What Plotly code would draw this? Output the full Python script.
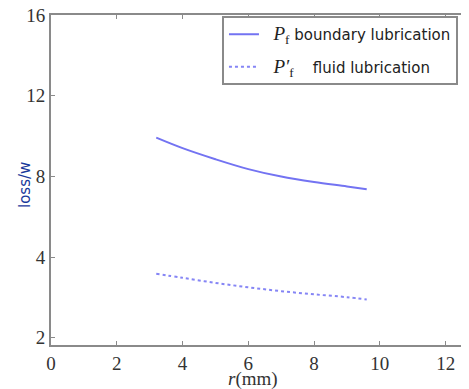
import plotly.graph_objects as go

# Data
r_vals = [3.2, 4.0, 5.0, 6.0, 7.0, 8.0, 9.0, 9.6]
pf_boundary = [9.92, 9.40, 8.85, 8.36, 7.99, 7.72, 7.50, 7.36]
pf_fluid = [3.17, 2.97, 2.72, 2.50, 2.31, 2.15, 2.01, 1.90]

y_tick_pos = [0, 4, 8, 12, 16]
y_tick_text = ["2", "4", "8", "12", "16"]
x_ticks = [0, 2, 4, 6, 8, 10, 12]

serif = "Liberation Serif, Times New Roman, serif"
sans = "DejaVu Sans, Verdana, sans-serif"

fig = go.Figure()
fig.add_trace(go.Scatter(
    x=r_vals, y=pf_boundary, mode="lines", line=dict(color="#7373f2", width=2, shape="spline"),
    name=f"&nbsp;&nbsp;<span style='font-family:{serif};font-size:19px'><i>P</i><sub>f</sub></span>&nbsp;boundary lubrication",
    legendgroup="a"))
fig.add_trace(go.Scatter(
    x=r_vals, y=pf_fluid, mode="lines", line=dict(color="#8585f5", width=2, dash="dot", shape="spline"),
    name=f"&nbsp;&nbsp;<span style='font-family:{serif};font-size:19px'><i>P′</i><sub>f</sub></span>&nbsp;&nbsp;&nbsp; fluid lubrication",
    legendgroup="b"))

axis_common = dict(
    showline=True, linecolor="#8a8a8a", linewidth=2, mirror="ticks",
    ticks="inside", ticklen=4, tickcolor="#8a8a8a", tickwidth=1,
    showgrid=False, zeroline=False, automargin=False, ticklabeloverflow="allow",
    tickfont=dict(family=serif, size=19, color="#333333"),
)

fig.update_xaxes(range=[0, 12.71], tickvals=x_ticks, **axis_common)
fig.update_yaxes(range=[-0.36, 16], tickvals=y_tick_pos, ticktext=y_tick_text, **axis_common)

fig.add_annotation(text="<i>r</i>(mm)", xref="paper", yref="paper", x=0.483, y=-0.103,
                   xanchor="center", yanchor="middle", showarrow=False,
                   font=dict(family=serif, size=19, color="#333333"))
fig.add_annotation(text="loss/w", xref="paper", yref="paper", x=-0.062, y=0.485,
                   xanchor="center", yanchor="middle", showarrow=False, textangle=-90,
                   font=dict(family=sans, size=15, color="#1a3a9c"))

fig.update_layout(
    width=469, height=389,
    margin=dict(l=43, r=8, t=7, b=52, autoexpand=False),
    paper_bgcolor="white", plot_bgcolor="white",
    legend=dict(x=0.409, y=0.997, xanchor="left", yanchor="top",
                bordercolor="#8a8a8a", borderwidth=2, bgcolor="white",
                font=dict(family=sans, size=15, color="#222222"),
                tracegroupgap=10, itemwidth=30),
    showlegend=True,
)

fig.write_html("out.html")
